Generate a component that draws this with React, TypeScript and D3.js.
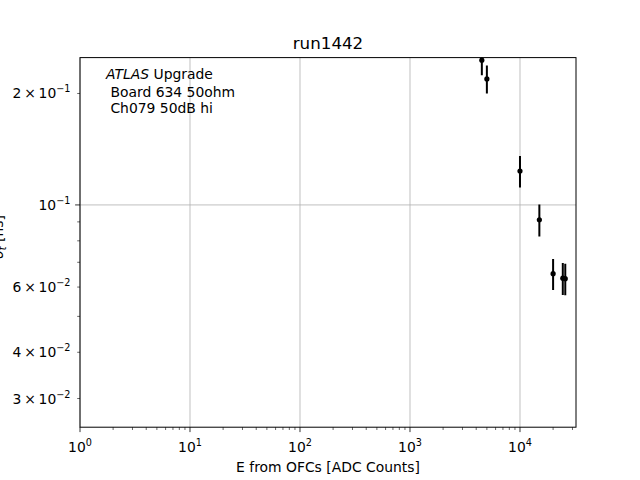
import React, { useEffect, useRef } from 'react';
import * as d3 from 'd3';

// data
const energies = [4500, 5000, 10000, 15000, 20000, 24500, 25800];
const sigmaT = [0.246, 0.219, 0.1235, 0.0912, 0.0652, 0.0634, 0.0632];
const sigmaErr = [0.022, 0.019, 0.012, 0.009, 0.0063, 0.0063, 0.0062];

const xMajorTicks = [1, 10, 100, 1000, 10000];
const yMajorTicks = [0.1];
const yMinorTicks = [0.03, 0.04, 0.05, 0.06, 0.07, 0.08, 0.09, 0.2];
const yLabelledMinor = [0.03, 0.04, 0.06, 0.2];
const infoLines = [' Board 634 50ohm', ' Ch079 50dB hi'];

const FONT = 'DejaVu Sans';

export default function App() {
  const svgRef = useRef<SVGSVGElement>(null);

  useEffect(() => {
    const svg = d3.select(svgRef.current);
    svg.selectAll('*').remove();

    const left = 80, right = 576, top = 57.6, bottom = 427.2;

    const x = d3.scaleLog().domain([1, 32300]).range([left, right]);
    const y = d3.scaleLog().domain([0.0251, 0.25]).range([bottom, top]);

    svg.append('rect').attr('width', 640).attr('height', 480).attr('fill', 'white');

    svg.append('defs').append('clipPath').attr('id', 'plotclip')
      .append('rect')
      .attr('x', left).attr('y', top)
      .attr('width', right - left).attr('height', bottom - top);

    // grid (major only)
    const grid = svg.append('g').attr('stroke', '#b0b0b0').attr('stroke-width', 0.8);
    xMajorTicks.forEach(t => {
      grid.append('line').attr('x1', x(t)).attr('x2', x(t)).attr('y1', top).attr('y2', bottom);
    });
    yMajorTicks.forEach(t => {
      grid.append('line').attr('x1', left).attr('x2', right).attr('y1', y(t)).attr('y2', y(t));
    });

    // error bars + markers
    const pts = svg.append('g').attr('clip-path', 'url(#plotclip)');
    energies.forEach((e, i) => {
      pts.append('line')
        .attr('x1', x(e)).attr('x2', x(e))
        .attr('y1', y(sigmaT[i] + sigmaErr[i]))
        .attr('y2', y(sigmaT[i] - sigmaErr[i]))
        .attr('stroke', 'black').attr('stroke-width', 2);
      pts.append('circle')
        .attr('cx', x(e)).attr('cy', y(sigmaT[i]))
        .attr('r', 2.6).attr('fill', 'black');
    });

    // spines
    svg.append('rect')
      .attr('x', left).attr('y', top)
      .attr('width', right - left).attr('height', bottom - top)
      .attr('fill', 'none').attr('stroke', 'black').attr('stroke-width', 1);

    const sci = (g: any, mant: string | null, exp: number, anchor: string, tx: number, ty: number) => {
      const t = g.append('text')
        .attr('x', tx).attr('y', ty)
        .attr('text-anchor', anchor)
        .attr('font-family', FONT).attr('font-size', 13.9).attr('fill', 'black');
      t.append('tspan').text(mant ? `${mant}\u2009×\u200910` : '10');
      t.append('tspan').attr('dy', -6).attr('font-size', 9.7)
        .text(exp < 0 ? '\u2212' + (-exp) : String(exp));
    };

    // x ticks
    const xt = svg.append('g');
    xMajorTicks.forEach(t => {
      xt.append('line').attr('x1', x(t)).attr('x2', x(t)).attr('y1', bottom).attr('y2', bottom + 4.9)
        .attr('stroke', 'black').attr('stroke-width', 0.8);
      sci(xt, null, Math.round(Math.log10(t)), 'middle', x(t), 452);
    });
    xMajorTicks.forEach(d => {
      for (let m = 2; m <= 9; m++) {
        const v = m * d;
        if (v > 32300) continue;
        xt.append('line').attr('x1', x(v)).attr('x2', x(v)).attr('y1', bottom).attr('y2', bottom + 2.8)
          .attr('stroke', 'black').attr('stroke-width', 0.6);
      }
    });

    // y ticks
    const yt = svg.append('g');
    yMajorTicks.forEach(t => {
      yt.append('line').attr('x1', left - 4.9).attr('x2', left).attr('y1', y(t)).attr('y2', y(t))
        .attr('stroke', 'black').attr('stroke-width', 0.8);
      sci(yt, null, Math.round(Math.log10(t)), 'end', 70.5, y(t) + 5);
    });
    yMinorTicks.forEach(t => {
      yt.append('line').attr('x1', left - 2.8).attr('x2', left).attr('y1', y(t)).attr('y2', y(t))
        .attr('stroke', 'black').attr('stroke-width', 0.6);
    });
    yLabelledMinor.forEach(t => {
      const exp = Math.floor(Math.log10(t) + 1e-9);
      const mant = String(Math.round(t / Math.pow(10, exp)));
      sci(yt, mant, exp, 'end', 70.5, y(t) + 5);
    });

    // title and axis labels
    svg.append('text')
      .attr('x', (left + right) / 2).attr('y', 49)
      .attr('text-anchor', 'middle')
      .attr('font-family', FONT).attr('font-size', 16.7)
      .text('run1442');

    svg.append('text')
      .attr('x', (left + right) / 2).attr('y', 472)
      .attr('text-anchor', 'middle')
      .attr('font-family', FONT).attr('font-size', 13.9)
      .text('E from OFCs [ADC Counts]');

    // y label sits mostly off the left edge, as in the original figure
    const yl = svg.append('text')
      .attr('transform', 'translate(2.5,237) rotate(-90)')
      .attr('text-anchor', 'middle')
      .attr('font-family', FONT).attr('font-size', 13.9);
    yl.append('tspan').attr('font-style', 'italic').text('σ');
    yl.append('tspan').attr('dy', 3).attr('font-size', 9.7).attr('font-style', 'italic').text('t');
    yl.append('tspan').attr('dy', -3).text(' [ns]');

    // annotation box
    const ann = svg.append('text')
      .attr('x', 106).attr('y', 79)
      .attr('font-family', FONT).attr('font-size', 13.9)
      .attr('xml:space', 'preserve');
    ann.append('tspan').attr('font-style', 'italic').text('ATLAS');
    ann.append('tspan').text(' Upgrade');
    infoLines.forEach((l, i) => {
      svg.append('text')
        .attr('x', 106).attr('y', 96.5 + i * 16.5)
        .attr('font-family', FONT).attr('font-size', 13.9)
        .attr('xml:space', 'preserve')
        .text(l);
    });
  }, []);

  return (
    <svg ref={svgRef} width={640} height={480}
      style={{ position: 'absolute', left: 0, top: 0, display: 'block' }} />
  );
}
